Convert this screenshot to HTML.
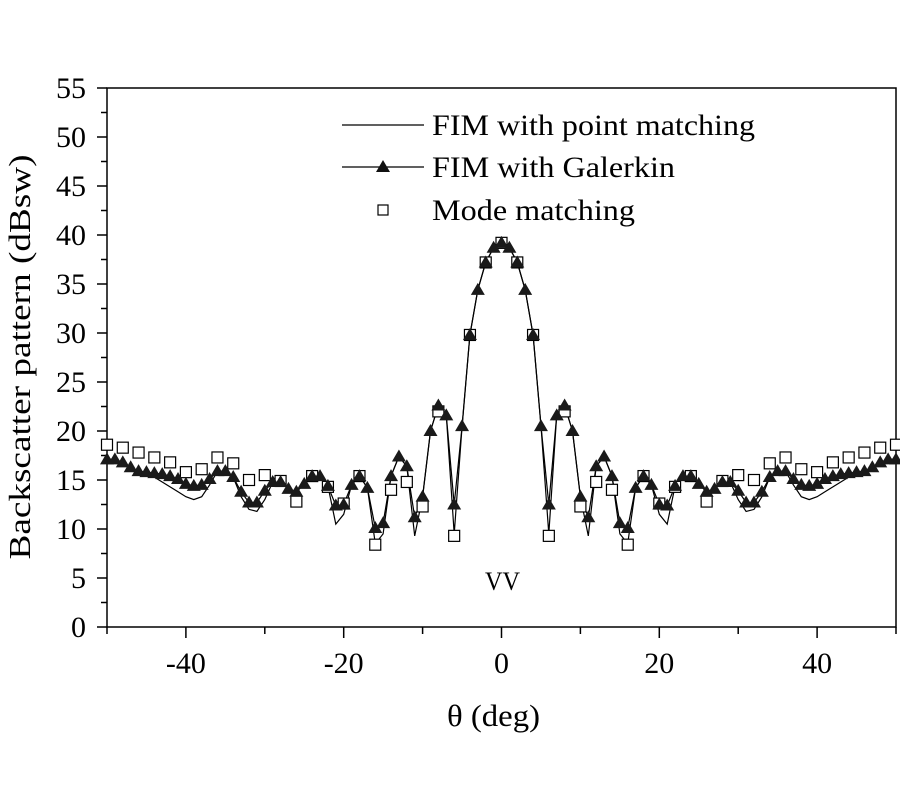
<!DOCTYPE html>
<html><head><meta charset="utf-8"><style>
html,body{margin:0;padding:0;background:#fff;}
svg{display:block;font-family:"Liberation Serif",serif;}
</style></head><body>
<svg id="s" width="900" height="800" xmlns="http://www.w3.org/2000/svg">
<rect width="900" height="800" fill="#fff"/>
<rect x="107" y="88" width="789" height="539" fill="none" stroke="#000" stroke-width="1.5"/>
<g id="ax" stroke="#000" stroke-width="1.5"></g>
<g id="lab" font-size="30" fill="#000"></g>
<g id="data"></g>
<text x="30" y="357" font-size="31" text-anchor="middle" textLength="405" lengthAdjust="spacingAndGlyphs" transform="rotate(-90 30 357)">Backscatter pattern (dBsw)</text>
<text x="447" y="726" font-size="31" textLength="93" lengthAdjust="spacingAndGlyphs">θ (deg)</text>
<text x="485" y="590" font-size="26" textLength="35" lengthAdjust="spacingAndGlyphs">VV</text>
<line x1="342" y1="125" x2="424" y2="125" stroke="#000" stroke-width="1.2"/>
<text x="432" y="135" font-size="30" textLength="323" lengthAdjust="spacingAndGlyphs">FIM with point matching</text>
<line x1="342" y1="167" x2="424" y2="167" stroke="#000" stroke-width="1.2"/>
<polygon points="383,160 390,172 376,172" fill="#111"/>
<text x="432" y="177" font-size="30" textLength="243" lengthAdjust="spacingAndGlyphs">FIM with Galerkin</text>
<rect x="378" y="205" width="10" height="10" fill="#fff" stroke="#000" stroke-width="1.2"/>
<text x="432" y="220" font-size="30" textLength="203" lengthAdjust="spacingAndGlyphs">Mode matching</text>
</svg>
<script>
var NS="http://www.w3.org/2000/svg";
function X(d){return 107+(d+50)*7.89;}
function Y(v){return 627-v*9.8;}
function el(p,t,a){var e=document.createElementNS(NS,t);for(var k in a)e.setAttribute(k,a[k]);p.appendChild(e);return e;}
var ax=document.getElementById('ax'),lab=document.getElementById('lab'),dg=document.getElementById('data');
for(var v=0;v<=55;v+=2.5){var y=Y(v);var maj=(v%5===0);el(ax,'line',{x1:maj?97:101,y1:y,x2:107,y2:y});
 if(maj){var t=el(lab,'text',{x:86,y:y+10,'text-anchor':'end'});t.textContent=v;}}
for(var d=-50;d<=50;d+=10){var x=X(d);var maj=(d%20===0);el(ax,'line',{x1:x,y1:627,x2:x,y2:maj?638:634});
 if(maj){var t=el(lab,'text',{x:x,y:673,'text-anchor':'middle'});t.textContent=d;}}
var tri={'-50':17.1,'-49':17.1,'-48':16.8,'-47':16.3,'-46':15.9,'-45':15.8,'-44':15.7,'-43':15.6,'-42':15.4,'-41':15.1,'-40':14.6,'-39':14.4,'-38':14.5,'-37':15.1,'-36':15.9,'-35':15.9,'-34':15.3,'-33':13.8,'-32':12.7,'-31':12.7,'-30':13.9,'-29':14.8,'-28':14.8,'-27':14.1,'-26':13.8,'-25':14.6,'-24':15.4,'-23':15.4,'-22':14.4,'-21':12.4,'-20':12.5,'-19':14.5,'-18':15.4,'-17':14.2,'-16':10.1,'-15':10.6,'-14':15.4,'-13':17.4,'-12':16.4,'-11':11.2,'-10':13.3,'-9':20.0,'-8':22.6,'-7':21.6,'-6':12.5,'-5':20.5,'-4':29.8,'-3':34.4,'-2':37.2,'-1':38.7,'0':39.2};
var lineMod={'-44':15.3,'-43':14.8,'-42':14.3,'-41':13.8,'-40':13.3,'-39':13.0,'-38':13.3,'-37':14.5,'-33':13.3,'-32':12.0,'-31':11.8,'-30':13.0,'-21':10.5,'-20':11.5,'-16':8.5,'-15':9.5,'-11':9.3,'-6':9.5};
var sq={'-50':18.6,'-48':18.3,'-46':17.8,'-44':17.3,'-42':16.8,'-40':15.8,'-38':16.1,'-36':17.3,'-34':16.7,'-32':15.0,'-30':15.5,'-28':14.9,'-26':12.8,'-24':15.4,'-22':14.3,'-20':12.6,'-18':15.4,'-16':8.4,'-14':14.0,'-12':14.8,'-10':12.3,'-8':22.0,'-6':9.3,'-4':29.8,'-2':37.2,'0':39.2};
function val(o,d){return o[String(-Math.abs(d))];}
var pl=[],pt=[];
for(var d=-50;d<=50;d++){var tv=val(tri,d);var lv=val(lineMod,d);if(lv===undefined)lv=tv;
 pl.push(X(d).toFixed(1)+','+Y(lv).toFixed(1));pt.push(X(d).toFixed(1)+','+Y(tv).toFixed(1));}
el(dg,'polyline',{points:pl.join(' '),fill:'none',stroke:'#000','stroke-width':1.2});
el(dg,'polyline',{points:pt.join(' '),fill:'none',stroke:'#000','stroke-width':1.2});
for(var d=-50;d<=50;d+=2){var s=val(sq,d);if(s===undefined)continue;var x=X(d),y=Y(s);
 el(dg,'rect',{x:x-5.5,y:y-5.5,width:11,height:11,fill:'#fff',stroke:'#000','stroke-width':1.2});}
for(var d=-50;d<=50;d++){var x=X(d),y=Y(val(tri,d));
 el(dg,'polygon',{points:x+','+(y-7)+' '+(x+7)+','+(y+5)+' '+(x-7)+','+(y+5),fill:'#1a1a1a'});}
</script>
</body></html>
